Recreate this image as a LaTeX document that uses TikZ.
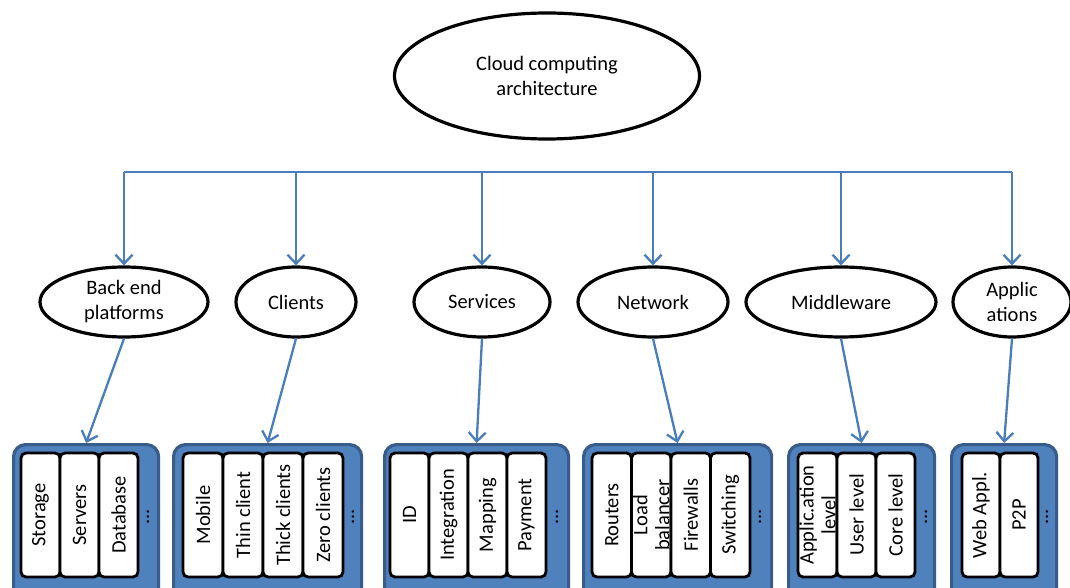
\documentclass[tikz,border=0pt]{standalone}
\usepackage{fontspec}
\setmainfont{Carlito}
\usetikzlibrary{arrows.meta,shapes.geometric}
\definecolor{connc}{HTML}{4A7EBB}
\definecolor{outerfill}{HTML}{4F81BD}
\definecolor{outerdraw}{HTML}{385D8A}
\tikzset{
  oval/.style={ellipse, draw=black, line width=3.2pt, fill=white, inner sep=0pt,
    align=center, font=\fontsize{20.5}{25}\selectfont},
  conn/.style={draw=connc, line width=2.3pt},
  arr/.style={conn, -{Straight Barb[length=9pt,width=17pt,line width=2.3pt]}},
  group/.style={draw=outerdraw, fill=outerfill, line width=3.2pt, rounded corners=12pt,
    anchor=north west, inner sep=0pt, minimum height=160},
  itembox/.style={draw=black, fill=white, line width=2.8pt, rounded corners=5pt,
    inner sep=0pt, minimum height=124, minimum width=39},
  itemtext/.style={rotate=90, align=center, inner sep=0pt,
    font=\fontsize{20.5}{22}\selectfont},
  more/.style={rotate=90, inner sep=0pt, font=\fontsize{20.5}{22}\selectfont},
}
\begin{document}
\begin{tikzpicture}[x=1pt,y=-1pt]
\clip (0,0) rectangle (1070,588);
\fill[white] (0,0) rectangle (1070,588);

% top
\node[oval, minimum width=305, minimum height=126] (top) at (547,76) {Cloud computing\\architecture};

% second level
\node[oval, minimum width=168, minimum height=70] (be) at (124,302) {Back end\\platforms};
\node[oval, minimum width=120, minimum height=70] (cl) at (296,302) {Clients};
\node[oval, minimum width=136, minimum height=70] (sv) at (482,302) {Services};
\node[oval, minimum width=150, minimum height=70] (nw) at (653,302) {Network};
\node[oval, minimum width=190, minimum height=70] (mw) at (841,302) {Middleware};
\node[oval, minimum width=118, minimum height=70] (ap) at (1012,302) {Applic\\ations};

% bus
\coordinate (b1) at (124,172);
\coordinate (b2) at (296,172);
\coordinate (b3) at (482,172);
\coordinate (b4) at (653,172);
\coordinate (b5) at (841,172);
\coordinate (b6) at (1012,172);
\draw[conn] (b1) -- (b6);
\draw[arr] (b1) -- (be.north);
\draw[arr] (b2) -- (cl.north);
\draw[arr] (b3) -- (sv.north);
\draw[arr] (b4) -- (nw.north);
\draw[arr] (b5) -- (mw.north);
\draw[arr] (b6) -- (ap.north);

% groups
\node[group, minimum width=145] (G1) at (12,443) {};
\node[group, minimum width=188] (G2) at (172,443) {};
\node[group, minimum width=184] (G3) at (383,443) {};
\node[group, minimum width=188] (G4) at (582,443) {};
\node[group, minimum width=146] (G5) at (787,443) {};
\node[group, minimum width=105] (G6) at (950,443) {};

% lower arrows
\draw[arr] (be.south) -- (G1.north);
\draw[arr] (cl.south) -- (G2.north);
\draw[arr] (sv.south) -- (G3.north);
\draw[arr] (nw.south) -- (G4.north);
\draw[arr] (mw.south) -- (G5.north);
\draw[arr] (ap.south) -- (G6.north);

% item boxes
\node[itembox] (i11) at (40.5,515) {};
\node[itembox] (i12) at (79.5,515) {};
\node[itembox] (i13) at (118.5,515) {};
\node[itembox, minimum width=40] (i21) at (203,515) {};
\node[itembox, minimum width=40] (i22) at (243,515) {};
\node[itembox, minimum width=40] (i23) at (283,515) {};
\node[itembox, minimum width=40] (i24) at (323,515) {};
\node[itembox] (i31) at (409.5,515) {};
\node[itembox] (i32) at (448.5,515) {};
\node[itembox] (i33) at (487.5,515) {};
\node[itembox] (i34) at (526.5,515) {};
\node[itembox, minimum width=39.5] (i41) at (611.75,515) {};
\node[itembox, minimum width=39.5] (i42) at (651.25,515) {};
\node[itembox, minimum width=39.5] (i43) at (690.75,515) {};
\node[itembox, minimum width=39.5] (i44) at (730.25,515) {};
\node[itembox] (i51) at (817.5,515) {};
\node[itembox] (i52) at (856.5,515) {};
\node[itembox] (i53) at (895.5,515) {};
\node[itembox, minimum width=38] (i61) at (981,515) {};
\node[itembox, minimum width=38] (i62) at (1019,515) {};

% item texts
\node[itemtext] (t11) at (i11) {Storage};
\node[itemtext] (t12) at (i12) {Servers};
\node[itemtext] (t13) at (i13) {Database};
\node[itemtext] (t21) at (i21) {Mobile};
\node[itemtext] (t22) at (i22) {Thin client};
\node[itemtext] (t23) at (i23) {Thick clients};
\node[itemtext] (t24) at (i24) {Zero clients};
\node[itemtext] (t31) at (i31) {ID};
\node[itemtext] (t32) at (i32) {Integration};
\node[itemtext] (t33) at (i33) {Mapping};
\node[itemtext] (t34) at (i34) {Payment};
\node[itemtext] (t41) at (i41) {Routers};
\node[itemtext] (t42) at (i42) {Load\\balancer};
\node[itemtext] (t43) at (i43) {Firewalls};
\node[itemtext] (t44) at (i44) {Switching};
\node[itemtext] (t51) at (i51) {Applic.ation\\level};
\node[itemtext] (t52) at (i52) {User level};
\node[itemtext] (t53) at (i53) {Core level};
\node[itemtext] (t61) at (i61) {Web Appl.};
\node[itemtext] (t62) at (i62) {P2P};

% dots
\node[more] (d1) at (148,517) {...};
\node[more] (d2) at (353,517) {...};
\node[more] (d3) at (557,517) {...};
\node[more] (d4) at (760,517) {...};
\node[more] (d5) at (926,517) {...};
\node[more] (d6) at (1047,517) {...};
\end{tikzpicture}
\end{document}
